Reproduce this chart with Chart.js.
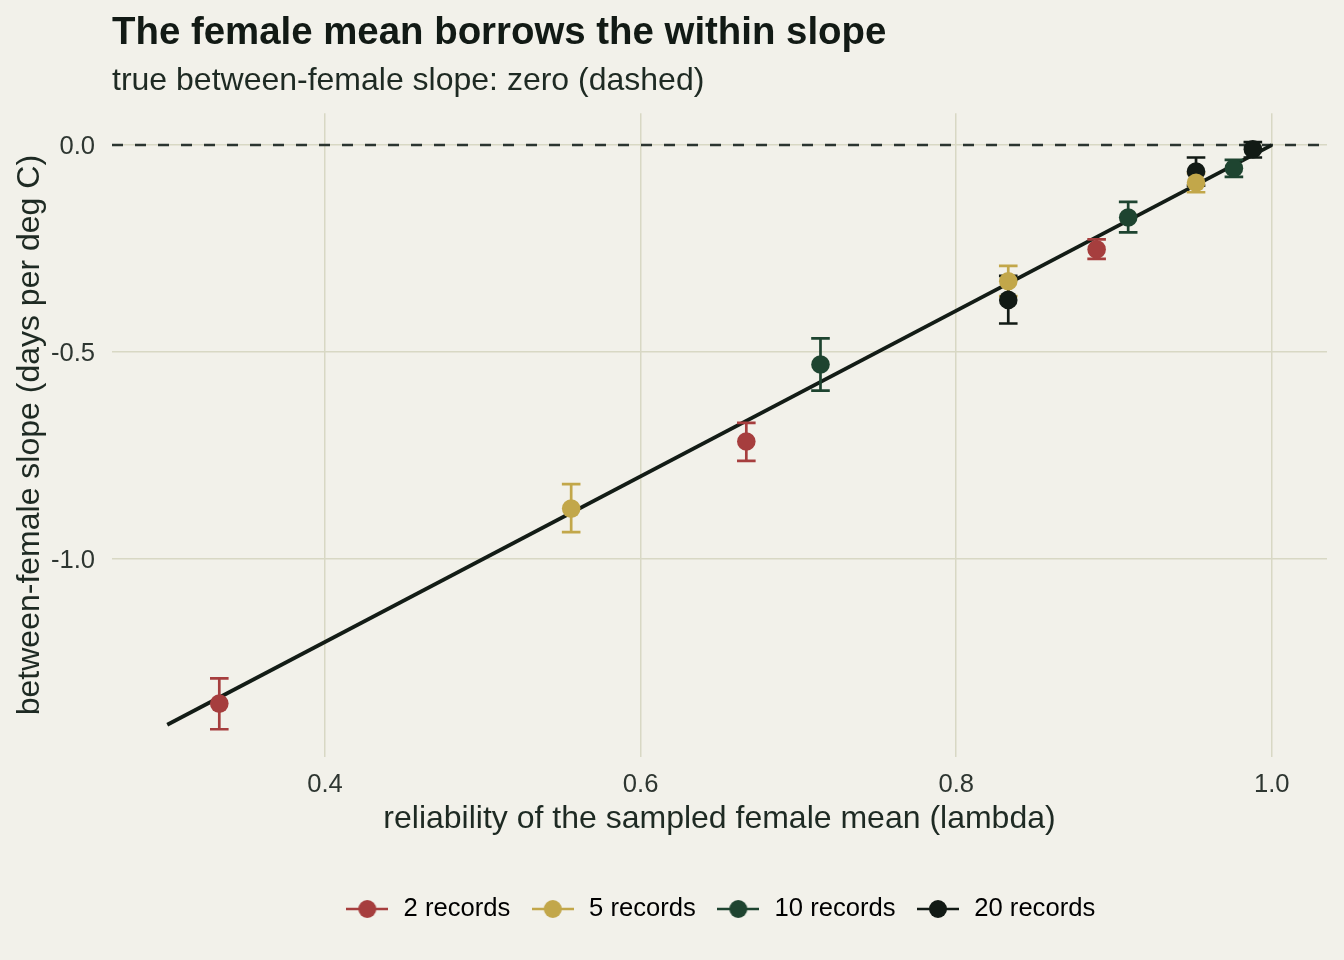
<!DOCTYPE html>
<html>
<head>
<meta charset="utf-8">
<script src="https://cdn.jsdelivr.net/npm/chart.js@4.4.1/dist/chart.umd.min.js"></script>
<style>
  html, body { margin: 0; padding: 0; background: #F2F1EA; }
  canvas { display: block; }
</style>
</head>
<body>
<canvas id="chart" width="1344" height="960"></canvas>
<script>
// values
const groups = ['2 records', '5 records', '10 records', '20 records'];
const groupColors = ['#A63E3E', '#C2A74A', '#1E4430', '#121A15'];

const rec2Lambda = [0.333, 0.667, 0.889];
const rec2Slope = [-1.349, -0.716, -0.252];
const rec2Lo = [-1.411, -0.763, -0.275];
const rec2Hi = [-1.288, -0.671, -0.228];

const rec5Lambda = [0.556, 0.833, 0.952];
const rec5Slope = [-0.878, -0.329, -0.091];
const rec5Lo = [-0.935, -0.365, -0.114];
const rec5Hi = [-0.819, -0.292, -0.068];

const rec10Lambda = [0.714, 0.909, 0.976];
const rec10Slope = [-0.530, -0.175, -0.056];
const rec10Lo = [-0.593, -0.211, -0.077];
const rec10Hi = [-0.467, -0.137, -0.036];

const rec20Lambda = [0.833, 0.952, 0.988];
const rec20Slope = [-0.374, -0.064, -0.010];
const rec20Lo = [-0.431, -0.098, -0.030];
const rec20Hi = [-0.316, -0.030, 0.007];

// the within-female slope line and the true (zero) between slope
const fitX = [0.3, 1.0];
const fitY = [-1.4, 0.0];
const trueSlope = 0;

const xTicks = [0.4, 0.6, 0.8, 1.0];
const yTicks = [-1.0, -0.5, 0.0];

const FONT = "'Liberation Sans', Arial, sans-serif";
const INK = '#1E2A23';

function pts(xs, ys) {
  return xs.map((x, i) => ({ x: x, y: ys[i] }));
}

// small legend key: line through a dot, like the ggplot pointrange key
function makeKey(color) {
  const c = document.createElement('canvas');
  c.width = 42; c.height = 20;
  const g = c.getContext('2d');
  g.strokeStyle = color;
  g.lineWidth = 2.7;
  g.beginPath(); g.moveTo(0, 10); g.lineTo(42, 10); g.stroke();
  g.fillStyle = color;
  g.beginPath(); g.arc(21, 10, 9, 0, Math.PI * 2); g.fill();
  return c;
}
const keys = groupColors.map(makeKey);

const pointSets = [
  [rec2Lambda, rec2Slope, rec2Lo, rec2Hi],
  [rec5Lambda, rec5Slope, rec5Lo, rec5Hi],
  [rec10Lambda, rec10Slope, rec10Lo, rec10Hi],
  [rec20Lambda, rec20Slope, rec20Lo, rec20Hi]
];

const datasets = pointSets.map((s, i) => ({
  label: groups[i],
  data: pts(s[0], s[1]),
  errLo: s[2],
  errHi: s[3],
  backgroundColor: groupColors[i],
  borderWidth: 0,
  pointRadius: 9.3,
  pointHoverRadius: 9.3,
  showLine: false
}));
// last dataset gets drawn first, so the fit line sits under the points
datasets.push({
  type: 'line',
  label: 'within slope',
  data: pts(fitX, fitY),
  borderColor: '#131C16',
  borderWidth: 3.8,
  pointRadius: 0,
  fill: false
});
const FIT_INDEX = datasets.length - 1;

const refLine = {
  id: 'refLine',
  beforeDatasetsDraw(chart) {
    const ctx = chart.ctx, a = chart.chartArea;
    const y = chart.scales.y.getPixelForValue(trueSlope);
    ctx.save();
    ctx.strokeStyle = '#2B3530';
    ctx.lineWidth = 2.5;
    ctx.setLineDash([11, 12]);
    ctx.beginPath(); ctx.moveTo(a.left, y); ctx.lineTo(a.right, y); ctx.stroke();
    ctx.restore();
  }
};

const errorBars = {
  id: 'errorBars',
  afterDatasetDraw(chart, args) {
    if (args.index !== FIT_INDEX) return;
    const ctx = chart.ctx, xs = chart.scales.x, ys = chart.scales.y;
    ctx.save();
    ctx.lineWidth = 2.7;
    chart.data.datasets.forEach((ds, i) => {
      if (!ds.errLo) return;
      ctx.strokeStyle = groupColors[i];
      ds.data.forEach((p, j) => {
        const x = xs.getPixelForValue(p.x);
        const y1 = ys.getPixelForValue(ds.errLo[j]);
        const y2 = ys.getPixelForValue(ds.errHi[j]);
        ctx.beginPath();
        ctx.moveTo(x, y1); ctx.lineTo(x, y2);
        ctx.moveTo(x - 9.3, y1); ctx.lineTo(x + 9.3, y1);
        ctx.moveTo(x - 9.3, y2); ctx.lineTo(x + 9.3, y2);
        ctx.stroke();
      });
    });
    ctx.restore();
  }
};

const ctx = document.getElementById('chart').getContext('2d');
const chart = new Chart(ctx, {
  type: 'scatter',
  data: { datasets: datasets },
  plugins: [refLine, errorBars],
  options: {
    responsive: false,
    animation: false,
    layout: { padding: { left: 0, right: 17, top: 0, bottom: 28.2 } },
    scales: {
      x: {
        type: 'linear',
        min: 0.265,
        max: 1.035,
        afterBuildTicks: s => { s.ticks = xTicks.map(v => ({ value: v })); },
        afterFit: s => { s.height = 120.2; },
        border: { display: false },
        grid: { color: '#D8D8C4', lineWidth: 1.5, drawTicks: false },
        ticks: {
          padding: 12.6,
          color: '#2E3631',
          font: { family: FONT, size: 25.6 },
          callback: v => v.toFixed(1)
        },
        title: {
          display: true,
          text: 'reliability of the sampled female mean (lambda)',
          color: INK,
          font: { family: FONT, size: 32 },
          padding: { top: 0, bottom: 39 }
        }
      },
      y: {
        type: 'linear',
        min: -1.478,
        max: 0.077,
        afterBuildTicks: s => { s.ticks = yTicks.map(v => ({ value: v })); },
        afterFit: s => { s.width = 112; },
        border: { display: false },
        grid: { color: '#D8D8C4', lineWidth: 1.5, drawTicks: false },
        ticks: {
          padding: 17,
          labelOffset: 2,
          color: '#2E3631',
          font: { family: FONT, size: 25.6 },
          callback: v => v.toFixed(1)
        },
        title: {
          display: true,
          text: 'between-female slope (days per deg C)',
          color: INK,
          font: { family: FONT, size: 32 },
          padding: { top: 10.7, bottom: 0 }
        }
      }
    },
    plugins: {
      tooltip: { enabled: false },
      title: {
        display: true,
        fullSize: false,
        align: 'start',
        text: 'The female mean borrows the within slope',
        color: '#121A15',
        font: { family: FONT, size: 38.4, weight: 'bold' },
        padding: { top: 10.7, bottom: 0 }
      },
      subtitle: {
        display: true,
        fullSize: false,
        align: 'start',
        text: 'true between-female slope: zero (dashed)',
        color: INK,
        font: { family: FONT, size: 32 },
        padding: { top: 5.1, bottom: 12.9 }
      },
      legend: {
        position: 'bottom',
        fullSize: false,
        labels: {
          usePointStyle: true,
          pointStyleWidth: 47,
          padding: 19,
          color: INK,
          font: { family: FONT, size: 25.6 },
          generateLabels: () => groups.map((g, i) => ({
            text: g,
            pointStyle: keys[i],
            fillStyle: groupColors[i],
            strokeStyle: groupColors[i],
            lineWidth: 0,
            hidden: false,
            datasetIndex: i
          }))
        }
      }
    }
  }
});
</script>
</body>
</html>
